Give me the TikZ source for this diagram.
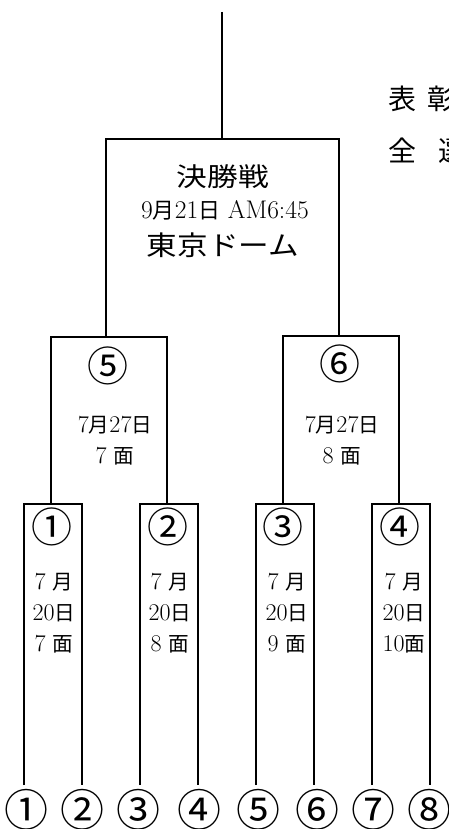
\documentclass[tikz,border=0pt]{standalone}
\usepackage{fontspec}
\newfontfamily\cjk{Noto Sans CJK JP}
\newfontfamily\cjks[Scale=0.86]{Noto Sans CJK JP}
\newcommand\jtext[1]{{\cjks #1}}
\begin{document}
\begin{tikzpicture}[x=1pt,y=-1pt,
  bline/.style={line width=1.8pt, line join=miter},
  circbig/.style={inner sep=0pt, font=\cjk\fontsize{44}{44}\selectfont},
  circmid/.style={inner sep=0pt, font=\cjk\fontsize{41}{41}\selectfont},
  title/.style={inner sep=0pt, font=\cjk\fontsize{26}{26}\selectfont, xscale=1.18},
  info/.style={inner sep=0pt, align=center, font=\fontsize{24}{31}\selectfont},
  side/.style={inner sep=0pt, anchor=west, font=\cjk\fontsize{28}{28}\selectfont}]
\useasboundingbox (0,0) rectangle (448,829);
\clip (0,0) rectangle (448,829);
% junction coordinates
\coordinate (top) at (222,12);
\coordinate (f) at (222,139);
\coordinate (s1) at (106,337);
\coordinate (s2) at (339,336);
\coordinate (q1) at (51,504);
\coordinate (q2) at (167,504);
\coordinate (q3) at (283,504);
\coordinate (q4) at (399,504);
\foreach \i/\x in {1/24,2/82,3/140,4/198,5/256,6/314,7/372,8/430}
  \coordinate (t\i) at (\x,785);
% bracket lines
\draw[bline] (top) -- (f);
\draw[bline] (s1) |- (f) -| (s2);
\draw[bline] (q1) |- (s1) -| (q2);
\draw[bline] (q3) |- (s2) -| (q4);
\draw[bline] (t1) |- (q1) -| (t2);
\draw[bline] (t3) |- (q2) -| (t4);
\draw[bline] (t5) |- (q3) -| (t6);
\draw[bline] (t7) |- (q4) -| (t8);
% final texts
\node[title] (fin) at (223,177) {決勝戦};
\node[inner sep=0pt, font=\fontsize{25.5}{25.5}\selectfont] (findate) at (225,210) {9\jtext{月}21\jtext{日} AM6:45};
\node[title, font=\cjk\fontsize{27}{27}\selectfont, xscale=0.96] (finplace) at (223,245) {東京ドーム};
% semi-finals
\node[circmid] (m5) at (108,366) {⑤};
\node[circmid] (m6) at (340,364) {⑥};
\node[info] (d5) at (115,441) {7\jtext{月}27\jtext{日}\\7 \jtext{面}};
\node[info] (d6) at (342,441) {7\jtext{月}27\jtext{日}\\8 \jtext{面}};
% quarter-finals
\node[circmid] (m1) at (52,527) {①};
\node[circmid] (m2) at (168,527) {②};
\node[circmid] (m3) at (283,527) {③};
\node[circmid] (m4) at (400,527) {④};
\node[info] (d1) at (54,613) {7 \jtext{月}\\20\jtext{日}\\7 \jtext{面}};
\node[info] (d2) at (170,613) {7 \jtext{月}\\20\jtext{日}\\8 \jtext{面}};
\node[info] (d3) at (287,613) {7 \jtext{月}\\20\jtext{日}\\9 \jtext{面}};
\node[info] (d4) at (404,613) {7 \jtext{月}\\20\jtext{日}\\10\jtext{面}};
% team labels
\foreach \i/\x/\c in {1/27/①,2/82/②,3/138/③,4/199/④,5/258/⑤,6/317/⑥,7/373/⑦,8/429/⑧}
  \node[circbig] (l\i) at (\x,810) {\c};
% side text (cut at the edge)
\node[side] (s1t) at (388,99) {表\hspace{11pt}彰};
\node[side] (s2t) at (388,151) {全\hspace{22pt}選};
\end{tikzpicture}
\end{document}
